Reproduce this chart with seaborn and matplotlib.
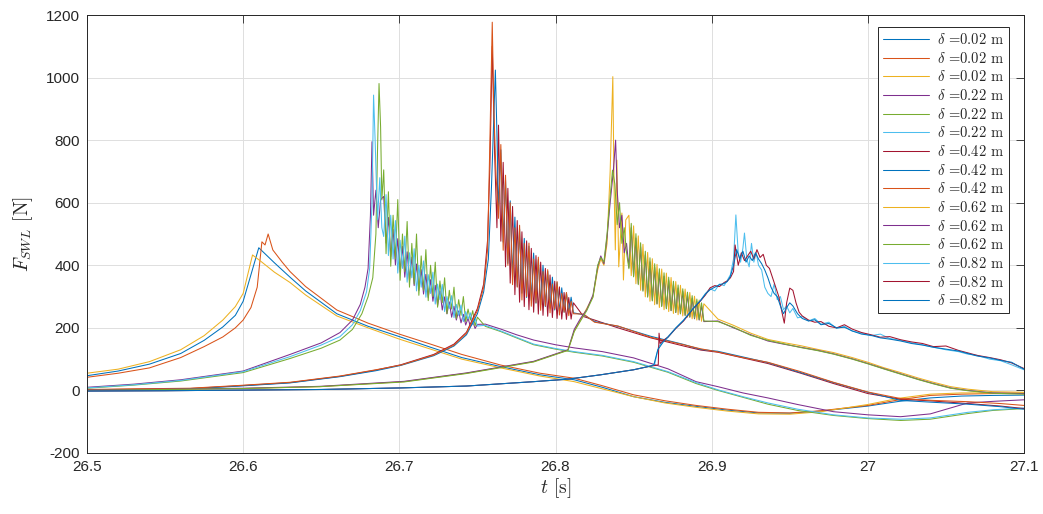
import matplotlib
matplotlib.use("Agg")
import matplotlib.pyplot as plt
import seaborn as sns

# MATLAB default line colours
c_blue, c_orange, c_yellow = '#0072BD', '#D95319', '#EDB120'
c_purple, c_green, c_cyan, c_red = '#7E2F8E', '#77AC30', '#4DBEEE', '#A2142F'

# ---- delta = 0.02 m ----
t_a1 = [26.50, 26.52, 26.54, 26.56, 26.575, 26.587, 26.595, 26.600, 26.605, 26.610, 26.615, 26.620, 26.630, 26.640, 26.660, 26.680, 26.700, 26.720, 26.740, 26.765, 26.790, 26.812, 26.830, 26.850, 26.870, 26.890, 26.910, 26.930, 26.950, 26.970, 27.000, 27.020, 27.040, 27.060, 27.080, 27.100]
f_a1 = [47, 62, 84, 118, 160, 203, 240, 285, 370, 456, 432, 408, 362, 318, 245, 205, 172, 138, 105, 76, 50, 34, 10, -20, -38, -51, -63, -72, -73, -66, -50, -35, -24, -18, -16, -15]
t_a2 = [26.50, 26.52, 26.54, 26.56, 26.575, 26.587, 26.595, 26.600, 26.605, 26.609, 26.612, 26.614, 26.616, 26.619, 26.625, 26.630, 26.640, 26.660, 26.680, 26.700, 26.720, 26.740, 26.765, 26.790, 26.812, 26.830, 26.850, 26.870, 26.890, 26.910, 26.930, 26.950, 26.970, 27.000, 27.020, 27.040, 27.060, 27.080, 27.100]
f_a2 = [42, 55, 72, 105, 140, 171, 200, 225, 265, 330, 475, 465, 500, 449, 410, 380, 332, 257, 215, 180, 148, 115, 81, 55, 39, 15, -14, -33, -48, -60, -70, -72, -65, -48, -30, -16, -12, -10, -10]
t_a3 = [26.50, 26.52, 26.54, 26.56, 26.575, 26.587, 26.595, 26.600, 26.606, 26.612, 26.620, 26.630, 26.640, 26.660, 26.680, 26.700, 26.720, 26.740, 26.765, 26.790, 26.812, 26.830, 26.850, 26.870, 26.890, 26.910, 26.930, 26.950, 26.970, 27.000, 27.020, 27.040, 27.060, 27.080, 27.100]
f_a3 = [55, 68, 92, 130, 175, 225, 268, 310, 433, 410, 378, 345, 305, 238, 200, 164, 132, 100, 72, 46, 28, 5, -20, -40, -54, -66, -75, -76, -68, -45, -25, -12, -8, -8, -8]

# ---- delta = 0.22 m ----
t_b4_head = [26.500, 26.530, 26.560, 26.600, 26.630, 26.650, 26.662, 26.670, 26.675, 26.678, 26.680, 26.6815, 26.6825, 26.6835, 26.685, 26.6865, 26.688]
f_b4_head = [10, 20, 34, 62, 115, 152, 185, 225, 275, 330, 390, 560, 795, 560, 640, 520, 610]
t_b5_head = [26.500, 26.530, 26.560, 26.600, 26.630, 26.650, 26.662, 26.670, 26.676, 26.680, 26.683, 26.685, 26.686, 26.687, 26.688, 26.6888]
f_b5_head = [7, 17, 30, 57, 102, 135, 161, 195, 245, 300, 360, 500, 760, 981, 843, 609]
t_b6_head = [26.500, 26.530, 26.560, 26.600, 26.630, 26.650, 26.662, 26.670, 26.675, 26.679, 26.681, 26.6825, 26.6835, 26.6845, 26.686, 26.6875, 26.6888]
f_b6_head = [8, 18, 32, 60, 108, 145, 172, 210, 255, 315, 390, 600, 944, 800, 545, 680, 520]
t_b_tail = [26.690, 26.6915, 26.693, 26.6945, 26.696, 26.6975, 26.699, 26.7005, 26.702, 26.7035,
            26.705, 26.7065, 26.708, 26.7095, 26.711, 26.7125, 26.714, 26.7155, 26.717, 26.7185,
            26.720, 26.7215, 26.723, 26.7245, 26.726, 26.7275, 26.729, 26.7305, 26.732, 26.7335,
            26.735, 26.7365, 26.738, 26.7395, 26.741, 26.7425, 26.744, 26.7455, 26.747, 26.7485, 26.750,
            26.755, 26.765, 26.775, 26.786, 26.80, 26.812, 26.83, 26.85, 26.872, 26.89, 26.904,
            26.92, 26.936, 26.955, 26.978, 27.0, 27.021, 27.04, 27.064, 27.08, 27.1]
f_b4_tail = [620, 471, 553, 428, 515, 401, 485, 378, 461, 362, 443, 351, 426, 335, 404, 320, 386, 308, 371, 297,
             354, 285, 336, 271, 318, 257, 299, 245, 283, 234, 269, 225, 254, 216, 243, 209, 231, 204, 221, 198, 211,
             212, 196, 178, 161, 146, 136, 124, 104, 69, 28, 12, -8, -24, -45, -68, -78, -84, -75, -40, -35, -30]
f_b5_tail = [705, 437, 635, 397, 560, 420, 610, 352, 500, 380, 540, 330, 470, 340, 500, 304, 430, 320, 450, 287,
             400, 300, 410, 266, 350, 280, 360, 245, 320, 260, 330, 230, 290, 240, 300, 220, 260, 225, 255, 206, 234,
             205, 188, 168, 146, 132, 122, 110, 90, 58, 22, 0, -22, -44, -64, -80, -90, -96, -92, -74, -64, -58]
f_b6_tail = [492, 626, 431, 560, 420, 543, 375, 480, 390, 493, 346, 440, 360, 453, 318, 400, 330, 414, 298, 370,
             310, 378, 276, 340, 290, 339, 252, 300, 262, 303, 233, 275, 240, 273, 220, 252, 228, 248, 210, 230, 206,
             208, 190, 170, 148, 134, 124, 112, 92, 60, 25, 2, -20, -40, -60, -78, -88, -92, -88, -70, -62, -56]

# ---- delta = 0.42 m ----
t_c7_head = [26.50, 26.53, 26.566, 26.598, 26.63, 26.662, 26.685, 26.701, 26.722, 26.735, 26.743, 26.750, 26.754, 26.7565, 26.758, 26.7595, 26.761, 26.7625]
f_c7_head = [2, 4, 6, 15, 25, 45, 65, 82, 115, 148, 186, 262, 340, 480, 720, 1100, 760, 520]
t_c8_head = [26.50, 26.53, 26.566, 26.598, 26.63, 26.662, 26.685, 26.701, 26.722, 26.735, 26.743, 26.750, 26.754, 26.757, 26.759, 26.7615, 26.7625]
f_c8_head = [1, 3, 5, 14, 24, 44, 63, 80, 111, 142, 178, 245, 315, 420, 650, 1024, 820]
t_c9_head = [26.50, 26.53, 26.566, 26.598, 26.63, 26.662, 26.685, 26.701, 26.722, 26.735, 26.743, 26.750, 26.754, 26.7565, 26.758, 26.7595, 26.7605, 26.762]
f_c9_head = [3, 5, 7, 16, 26, 46, 66, 81, 113, 145, 183, 255, 330, 450, 800, 1177, 900, 680]
t_c_tail = [26.7635, 26.765, 26.7665, 26.768, 26.7695, 26.771, 26.7725, 26.774, 26.7755, 26.777,
            26.7785, 26.780, 26.7815, 26.783, 26.7845, 26.786, 26.7875, 26.789, 26.7905, 26.792,
            26.7935, 26.795, 26.7965, 26.798, 26.7995, 26.801, 26.8025, 26.804, 26.8055, 26.807,
            26.8085, 26.810, 26.8115,
            26.818, 26.825, 26.84, 26.861, 26.882, 26.893, 26.904, 26.92, 26.936, 26.957, 26.978,
            27.0, 27.021, 27.042, 27.064, 27.085, 27.1]
f_c7_tail = [848, 477, 729, 395, 646, 343, 588, 306, 543, 282, 507, 268, 478, 258, 454, 250, 431, 244, 410, 240,
             390, 237, 369, 233, 349, 230, 331, 228, 313, 227, 297, 228, 280,
             236, 225, 200, 168, 142, 129, 122, 104, 86, 55, 22, -10, -28, -34, -42, -50, -58]
f_c8_tail = [577, 769, 474, 672, 406, 606, 362, 554, 332, 516, 311, 486, 297, 461, 288, 439, 279, 418, 273, 400,
             268, 381, 263, 362, 257, 345, 253, 328, 250, 312, 249, 298, 248,
             242, 220, 205, 173, 147, 131, 125, 107, 89, 57, 25, -6, -32, -38, -44, -52, -60]
f_c9_tail = [550, 786, 448, 688, 400, 600, 338, 520, 330, 528, 289, 470, 300, 471, 269, 420, 280, 426, 256, 380,
             270, 386, 248, 340, 260, 348, 241, 310, 250, 313, 239, 285, 245,
             244, 218, 206, 170, 146, 133, 123, 105, 90, 60, 26, -5, -26, -32, -36, -42, -48]

# ---- delta = 0.62 m ----
t_d10_head = [26.50, 26.55, 26.60, 26.649, 26.703, 26.743, 26.786, 26.808, 26.812, 26.816, 26.82, 26.824, 26.827, 26.829, 26.831, 26.833, 26.835, 26.8367, 26.8375, 26.8383, 26.8393, 26.8405, 26.8425, 26.8435, 26.845]
f_d10_head = [0, 3, 6, 12, 28, 55, 92, 129, 190, 225, 262, 300, 385, 420, 400, 470, 700, 1003, 650, 449, 736, 395, 567, 353, 545]
t_d11_head = [26.50, 26.55, 26.60, 26.649, 26.703, 26.743, 26.786, 26.808, 26.812, 26.816, 26.82, 26.824, 26.827, 26.829, 26.831, 26.833, 26.835, 26.837, 26.8385, 26.8395, 26.841, 26.8425, 26.844, 26.8455]
f_d11_head = [1, 4, 7, 13, 29, 56, 93, 130, 195, 230, 258, 305, 395, 430, 405, 490, 600, 700, 800, 640, 520, 560, 440, 470]
t_d12_head = [26.50, 26.55, 26.60, 26.649, 26.703, 26.743, 26.786, 26.808, 26.812, 26.816, 26.82, 26.824, 26.827, 26.829, 26.831, 26.833, 26.835, 26.8365, 26.838, 26.8395, 26.841, 26.8425, 26.844, 26.8455]
f_d12_head = [0, 3, 6, 12, 27, 54, 91, 128, 188, 222, 255, 298, 400, 425, 410, 500, 620, 704, 660, 530, 600, 470, 520, 440]
t_d_tail = [26.847, 26.8485, 26.850, 26.8515, 26.853, 26.8545, 26.856, 26.8575, 26.859, 26.8605,
            26.862, 26.8635, 26.865, 26.8665, 26.868, 26.8695, 26.871, 26.8725, 26.874, 26.8755,
            26.877, 26.8785, 26.880, 26.8815, 26.883, 26.8845, 26.886, 26.8875, 26.889, 26.8905,
            26.892, 26.8935, 26.895,
            26.904, 26.914, 26.925, 26.936, 26.947, 26.957, 26.968, 26.978, 26.99, 27.0,
            27.01, 27.021, 27.032, 27.042, 27.053, 27.064, 27.08, 27.1]
f_d10_tail = [560, 367, 526, 341, 494, 320, 467, 299, 441, 285, 421, 274, 403, 265, 388, 258, 375, 252, 361, 246,
              348, 242, 336, 238, 324, 234, 313, 229, 301, 225, 289, 221, 277,
              228, 208, 183, 163, 152, 143, 131, 121, 105, 90, 73, 57, 40, 26, 12, 4, -4, -6]
f_d11_tail = [393, 520, 366, 487, 341, 459, 320, 433, 301, 411, 288, 393, 277, 377, 270, 365, 262, 351, 255, 338,
              249, 327, 245, 316, 240, 305, 234, 294, 229, 283, 225, 272, 220,
              222, 200, 178, 158, 147, 138, 128, 117, 101, 86, 70, 53, 36, 22, 8, 0, -8, -10]
f_d12_tail = [389, 534, 363, 501, 338, 472, 317, 445, 298, 424, 286, 405, 276, 389, 268, 376, 261, 362, 255, 349,
              249, 337, 245, 325, 240, 314, 235, 303, 231, 292, 226, 280, 222,
              220, 202, 176, 160, 148, 137, 127, 116, 100, 85, 69, 52, 35, 21, 7, -1, -9, -12]

# ---- delta = 0.82 m ----
t_e_head = [26.50, 26.55, 26.60, 26.65, 26.701, 26.743, 26.786, 26.808, 26.829, 26.85, 26.861]
f_e_head = [-2, -1, 1, 3, 8, 14, 28, 36, 50, 66, 78]
t_e13 = [26.8635, 26.866, 26.869, 26.872, 26.877, 26.882, 26.888, 26.893, 26.896,
         26.899, 26.902, 26.905, 26.908, 26.910, 26.912, 26.914, 26.9155, 26.917, 26.9185, 26.920, 26.921, 26.9225,
         26.924, 26.9255, 26.927, 26.9285, 26.930, 26.932, 26.934, 26.936, 26.938, 26.940, 26.942, 26.944, 26.946,
         26.948, 26.950, 26.952, 26.955, 26.958, 26.962, 26.966, 26.970, 26.975, 26.980, 26.985, 26.990, 26.996,
         27.002, 27.008, 27.014, 27.021, 27.028, 27.035, 27.042, 27.05, 27.058, 27.064, 27.07, 27.078, 27.085, 27.092, 27.1]
f_e13 = [84, 140, 158, 172, 200, 225, 262, 289, 310,
         325, 318, 340, 335, 352, 370, 420, 561, 440, 410, 455, 503, 420,
         395, 470, 410, 440, 400, 385, 330, 310, 300, 340, 290, 300, 258,
         270, 248, 262, 232, 236, 222, 230, 212, 218, 198, 205, 190, 183,
         175, 180, 166, 160, 152, 146, 138, 130, 124, 116, 112, 100, 95, 82, 66]
t_e14 = [26.8645, 26.8658, 26.8663, 26.867, 26.869, 26.872, 26.877, 26.882, 26.888, 26.893, 26.896,
         26.899, 26.902, 26.905, 26.908, 26.910, 26.912, 26.914, 26.915, 26.917, 26.919, 26.921, 26.923, 26.925,
         26.927, 26.929, 26.931, 26.933, 26.935, 26.937, 26.939, 26.941, 26.943, 26.945, 26.9465, 26.948, 26.950,
         26.952, 26.954, 26.956, 26.958, 26.962, 26.966, 26.970, 26.975, 26.980, 26.985, 26.990, 26.996,
         27.002, 27.008, 27.014, 27.021, 27.028, 27.035, 27.042, 27.05, 27.058, 27.064, 27.07, 27.078, 27.085, 27.092, 27.1]
f_e14 = [80, 82, 183, 150, 160, 170, 198, 222, 260, 287, 305,
         328, 335, 332, 345, 350, 360, 380, 465, 400, 440, 415, 430, 445,
         420, 450, 425, 435, 400, 390, 360, 330, 300, 250, 215, 280, 327,
         320, 280, 250, 238, 225, 218, 220, 205, 200, 210, 196, 185,
         178, 170, 172, 162, 155, 150, 140, 142, 128, 120, 112, 105, 98, 88, 70]
t_e15 = [26.863, 26.8655, 26.869, 26.872, 26.877, 26.882, 26.888, 26.893, 26.896,
         26.899, 26.902, 26.905, 26.908, 26.910, 26.912, 26.914, 26.916, 26.918, 26.920, 26.922, 26.924, 26.926,
         26.928, 26.930, 26.932, 26.934, 26.936, 26.938, 26.940, 26.942, 26.944, 26.946, 26.948, 26.950, 26.952,
         26.955, 26.958, 26.962, 26.966, 26.970, 26.975, 26.980, 26.985, 26.990, 26.996,
         27.002, 27.008, 27.014, 27.021, 27.028, 27.035, 27.042, 27.05, 27.058, 27.064, 27.07, 27.078, 27.085, 27.092, 27.1]
f_e15 = [82, 130, 155, 170, 199, 224, 261, 288, 308,
         322, 330, 338, 342, 348, 365, 400, 450, 420, 445, 410, 430, 415,
         440, 420, 405, 385, 360, 330, 310, 300, 270, 245, 265, 280, 270,
         245, 230, 222, 226, 210, 214, 200, 202, 190, 180,
         176, 168, 164, 158, 150, 145, 138, 132, 126, 118, 110, 104, 96, 90, 68]

lab_002 = r'$\delta$ =0.02 m'
lab_022 = r'$\delta$ =0.22 m'
lab_042 = r'$\delta$ =0.42 m'
lab_062 = r'$\delta$ =0.62 m'
lab_082 = r'$\delta$ =0.82 m'

series = [
    (t_a1, f_a1, c_blue, lab_002),
    (t_a2, f_a2, c_orange, lab_002),
    (t_a3, f_a3, c_yellow, lab_002),
    (t_b4_head + t_b_tail, f_b4_head + f_b4_tail, c_purple, lab_022),
    (t_b5_head + t_b_tail, f_b5_head + f_b5_tail, c_green, lab_022),
    (t_b6_head + t_b_tail, f_b6_head + f_b6_tail, c_cyan, lab_022),
    (t_c7_head + t_c_tail, f_c7_head + f_c7_tail, c_red, lab_042),
    (t_c8_head + t_c_tail, f_c8_head + f_c8_tail, c_blue, lab_042),
    (t_c9_head + t_c_tail, f_c9_head + f_c9_tail, c_orange, lab_042),
    (t_d10_head + t_d_tail, f_d10_head + f_d10_tail, c_yellow, lab_062),
    (t_d11_head + t_d_tail, f_d11_head + f_d11_tail, c_purple, lab_062),
    (t_d12_head + t_d_tail, f_d12_head + f_d12_tail, c_green, lab_062),
    (t_e_head + t_e13, f_e_head + f_e13, c_cyan, lab_082),
    (t_e_head + t_e14, f_e_head + f_e14, c_red, lab_082),
    (t_e_head + t_e15, f_e_head + f_e15, c_blue, lab_082),
]

sns.set_style('white')
plt.rcParams['mathtext.fontset'] = 'cm'
plt.rcParams['font.family'] = ['Liberation Sans', 'DejaVu Sans']

fig = plt.figure(figsize=(10.43, 5.14), dpi=100)
ax = fig.add_axes([0.0834, 0.1187, 0.8984, 0.8521])

for t, f, col, lab in series:
    sns.lineplot(x=t, y=f, color=col, linewidth=0.75, estimator=None, sort=False,
                 label=lab, ax=ax)

ax.set_xlim(26.5, 27.1)
ax.set_ylim(-200, 1200)
x_ticks = [26.5, 26.6, 26.7, 26.8, 26.9, 27.0, 27.1]
x_labels = ['26.5', '26.6', '26.7', '26.8', '26.9', '27', '27.1']
y_ticks = [-200, 0, 200, 400, 600, 800, 1000, 1200]
ax.set_xticks(x_ticks)
ax.set_xticklabels(x_labels)
ax.set_yticks(y_ticks)
ax.set_yticklabels([str(v) for v in y_ticks])
ax.tick_params(direction='in', length=6, width=0.6, colors='#262626', labelsize=11,
               top=True, right=True, pad=5)
ax.grid(True, color='#dedede', linewidth=0.7)
for sp in ax.spines.values():
    sp.set_color('#262626')
    sp.set_linewidth(0.7)

ax.set_xlabel(r'$t$ [s]', family='cmr10', fontsize=14, color='#262626', labelpad=2)
ax.set_ylabel(r'$F_{SWL}$ [N]', family='cmr10', fontsize=14, color='#262626', labelpad=8)

leg = ax.legend(loc='upper right', bbox_to_anchor=(0.984, 0.9726), borderaxespad=0,
                prop={'family': 'cmr10', 'size': 10.5}, frameon=True, fancybox=False,
                framealpha=1, edgecolor='#262626', handlelength=3.2, handletextpad=0.5,
                labelspacing=0.25, borderpad=0.35)
leg.get_frame().set_linewidth(0.7)

fig.savefig('out.png', dpi=100)
